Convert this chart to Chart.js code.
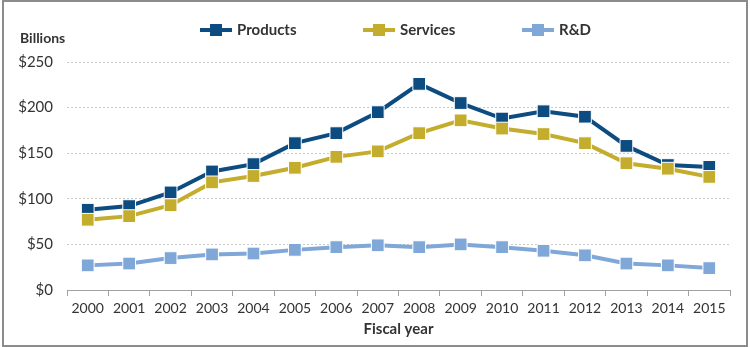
<!DOCTYPE html>
<html>
<head>
<meta charset="utf-8">
<script src="https://cdn.jsdelivr.net/npm/chart.js@4"></script>
<style>
  html, body { margin: 0; padding: 0; background: #fff; }
  #wrap { width: 750px; height: 347px; position: relative; }
</style>
</head>
<body>
<div id="wrap"><canvas id="chart" width="750" height="347"></canvas></div>
<script>
// Data
const years = ["2000", "2001", "2002", "2003", "2004", "2005", "2006", "2007",
  "2008", "2009", "2010", "2011", "2012", "2013", "2014", "2015"];
const products = [88, 92, 107, 130, 138, 161, 172, 195, 226, 205, 188, 196, 190, 158, 137, 135];
const services = [77, 81, 93, 118, 125, 134, 146, 152, 172, 186, 177, 171, 161, 139, 133, 124];
const rnd = [27, 29, 35, 39, 40, 44, 47, 49, 47, 50, 47, 43, 38, 29, 27, 24];
const seriesNames = ["Products", "Services", "R&D"];
const seriesColors = ["#0d4c80", "#c4ad2c", "#7fa7d8"];
const yTicks = [0, 50, 100, 150, 200, 250];

const fontFamily = "Lato, 'Open Sans', sans-serif";
const textColor = "#333333";

// Frame, "Billions" label and the line/marker legend
const extras = {
  id: "extras",
  afterDraw(chart) {
    const ctx = chart.ctx;
    ctx.save();
    ctx.strokeStyle = "#8c8c8c";
    ctx.lineWidth = 2;
    ctx.strokeRect(3, 1, 744, 345);

    ctx.fillStyle = textColor;
    ctx.font = "bold 14px " + fontFamily;
    ctx.textBaseline = "middle";
    ctx.fillText("Billions", 20, 38);

    const legendX = [200, 363, 522];
    seriesNames.forEach((name, i) => {
      const x = legendX[i];
      const y = 30;
      ctx.strokeStyle = seriesColors[i];
      ctx.lineWidth = 4;
      ctx.beginPath();
      ctx.moveTo(x, y);
      ctx.lineTo(x + 32, y);
      ctx.stroke();
      ctx.fillStyle = seriesColors[i];
      ctx.fillRect(x + 10, y - 6, 12, 12);
      ctx.fillStyle = textColor;
      ctx.font = "bold 15px " + fontFamily;
      ctx.textBaseline = "middle";
      ctx.fillText(name, x + 37, y);
    });
    ctx.restore();
  }
};

function lineSet(label, data, color) {
  return {
    label: label,
    data: data,
    borderColor: color,
    backgroundColor: color,
    borderWidth: 4,
    pointStyle: "rect",
    pointRadius: 9,
    pointHoverRadius: 9,
    pointBorderColor: "#ffffff",
    pointBorderWidth: 1,
    tension: 0,
  };
}

new Chart(document.getElementById("chart"), {
  type: "line",
  data: {
    labels: years,
    datasets: [
      lineSet(seriesNames[2], rnd, seriesColors[2]),
      lineSet(seriesNames[1], services, seriesColors[1]),
      lineSet(seriesNames[0], products, seriesColors[0]),
    ],
  },
  options: {
    responsive: false,
    animation: false,
    layout: { padding: { top: 62, right: 20, left: 0, bottom: 0 } },
    plugins: {
      legend: { display: false },
      tooltip: { enabled: false },
    },
    scales: {
      x: {
        offset: true,
        grid: {
          offset: true,
          drawOnChartArea: false,
          color: "#a0a0a0",
          tickLength: 6,
        },
        border: { color: "#a0a0a0", width: 1 },
        ticks: {
          color: textColor,
          font: { family: fontFamily, size: 14 },
          padding: 4,
          maxRotation: 0,
          autoSkip: false,
        },
        title: {
          display: true,
          text: "Fiscal year",
          color: textColor,
          font: { family: fontFamily, size: 15, weight: "bold" },
          padding: { top: 2, bottom: 9 },
        },
        afterFit(scale) { scale.height = 57; },
      },
      y: {
        min: 0,
        max: 250,
        afterBuildTicks(scale) {
          scale.ticks = yTicks.map((v) => ({ value: v }));
        },
        grid: {
          color: "#c8c8c8",
          drawTicks: false,
        },
        border: { display: false, dash: [2, 2] },
        ticks: {
          color: textColor,
          font: { family: fontFamily, size: 15 },
          padding: 14,
          callback: (v) => "$" + v,
        },
        afterFit(scale) { scale.width = 67; },
      },
    },
  },
  plugins: [extras],
});
</script>
</body>
</html>
